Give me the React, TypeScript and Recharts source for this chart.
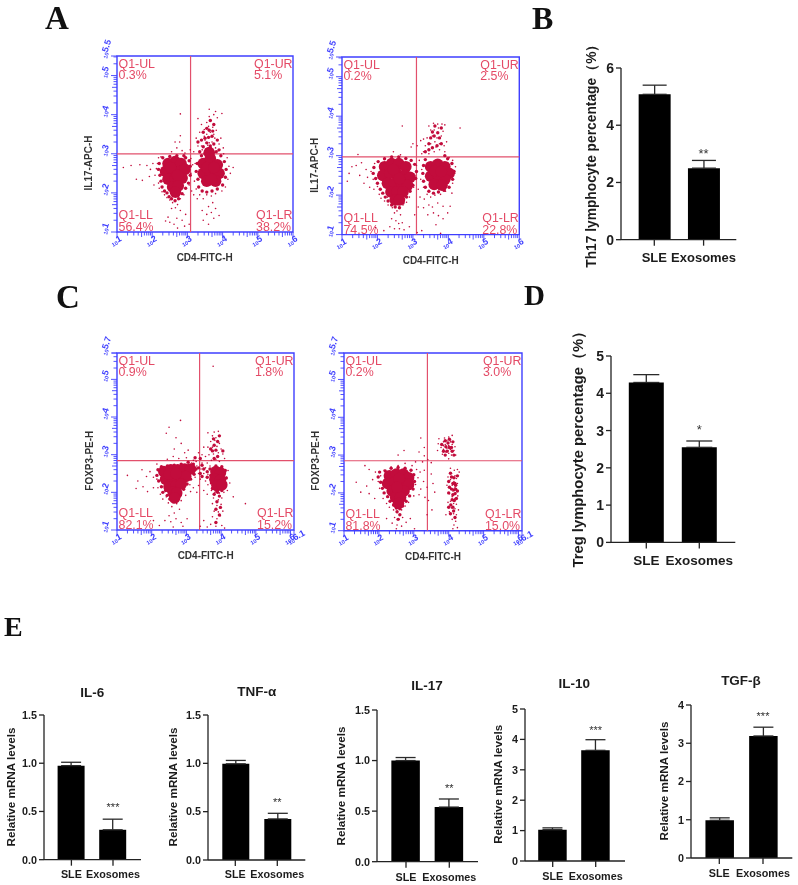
import React from 'react';
import { BarChart, Bar, XAxis, YAxis, ErrorBar, ReferenceDot, Label, ScatterChart, Scatter, ReferenceLine, ReferenceArea } from 'recharts';

const groups = ['SLE', 'Exosomes'];
const th17Values = [5.08, 2.5];
const th17Errors = [0.32, 0.27];
const tregValues = [4.29, 2.55];
const tregErrors = [0.21, 0.17];
const il6Values = [0.975, 0.31];
const il6Errors = [0.035, 0.11];
const tnfValues = [0.995, 0.425];
const tnfErrors = [0.035, 0.058];
const il17Values = [1.0, 0.54];
const il17Errors = [0.03, 0.08];
const il10Values = [1.03, 3.64];
const il10Errors = [0.06, 0.35];
const tgfValues = [0.985, 3.19];
const tgfErrors = [0.065, 0.23];

const a1Core = [[2.45,2.75],[2.65,2.8],[2.82,2.75],[2.38,2.55],[2.6,2.55],[2.8,2.55],[2.93,2.6],[2.45,2.35],[2.65,2.35],[2.85,2.38],[2.58,2.15],[2.74,2.18],[2.66,2.02],[2.52,2.65],[2.72,2.45],[3.45,2.75],[3.65,2.88],[3.85,2.72],[3.45,2.5],[3.65,2.5],[3.9,2.5],[3.55,2.3],[3.8,2.3],[3.62,3.03],[3.55,2.65],[3.75,2.65],[3.68,2.35]];
const a1Fringe = [[2.18,2.6],[2.2,2.75],[2.22,2.45],[2.25,2.3],[2.28,2.15],[2.35,2.05],[2.42,2.0],[2.48,1.9],[2.55,1.85],[2.65,1.8],[2.75,1.85],[2.85,1.98],[2.95,2.12],[3.03,2.25],[3.08,2.45],[3.08,2.68],[3.05,2.82],[2.95,2.9],[2.3,2.9],[2.5,2.93],[2.7,2.95],[2.9,2.95],[3.25,2.55],[3.28,2.75],[3.3,2.35],[3.32,2.15],[3.42,2.05],[3.55,2.02],[3.7,2.05],[3.85,2.1],[4.0,2.2],[4.08,2.4],[4.1,2.6],[4.05,2.8],[3.95,2.95],[3.82,3.05],[3.4,2.95],[3.35,3.05],[3.45,3.18],[3.55,3.28],[3.65,3.2],[3.75,3.25],[3.6,3.42],[3.7,3.45],[3.5,3.4],[3.62,3.6],[3.55,3.65],[3.72,3.58],[3.4,3.35],[3.45,3.55],[3.75,3.75],[3.85,3.35],[3.65,3.85],[3.5,3.0],[3.9,3.1],[3.3,3.3]];
const a1Halo = [[3.4,3.2],[3.5,3.35],[3.6,3.4],[3.7,3.3],[3.55,3.5],[3.65,3.55],[3.75,3.5],[3.48,3.62],[3.6,3.7],[3.72,3.68],[3.55,3.8],[3.68,3.85],[3.3,3.9],[3.4,3.75],[3.82,3.6],[3.95,3.4],[3.9,3.25],[3.62,3.95],[3.75,4],[3.85,3.92],[3.62,4.14],[3.8,4.08],[3.98,4.03],[3.25,3.4],[3.3,3.2],[3.42,3.1],[3.8,3.15],[4.02,3.15],[3.58,3.22],[3.68,3.15],[3.52,3.12],[3.48,3.45],[3.78,3.4],[3.62,3.28],[3.35,3.55],[3.88,3.08],[2.8,3.46],[2.65,3.3],[2.78,3.3],[2.7,3.15],[2.55,3.05],[2.85,3.08],[2.93,3.02],[3.08,3.1],[2.8,4.02],[3.18,3.05],[1.18,2.65],[1.4,2.7],[1.65,2.72],[1.55,2.35],[1.72,2.32],[1.85,2.7],[1.95,2.6],[2.02,2.75],[2.12,2.62],[2.08,2.45],[1.92,2.42],[2.05,2.2],[2.18,2.25],[2.18,2.9],[2.15,2.75],[2.25,2.92],[2.2,2.12],[2.28,2.03],[2.35,1.95],[2.42,1.88],[2.5,1.82],[2.58,1.75],[2.72,1.7],[2.8,1.85],[2.9,1.95],[2.66,1.62],[2.55,1.6],[2.8,1.55],[2.45,1.38],[2.5,1.25],[2.7,1.35],[2.62,1.2],[2.85,1.3],[2.92,1.15],[2.38,1.28],[3.05,1.2],[2.95,1.45],[2.72,1.1],[3.1,2.5],[3.15,2.72],[3.2,2.3],[3.05,2.2],[3.12,2.05],[3.22,2.75],[3.18,1.95],[3.1,2.88],[3.25,2.1],[3.28,1.85],[3.35,1.95],[3.45,1.85],[3.55,1.95],[3.68,1.92],[3.8,1.98],[3.98,2.05],[3.72,1.75],[3.6,1.65],[3.42,1.55],[3.55,1.45],[3.68,1.5],[3.8,1.6],[3.75,1.35],[3.45,1.3],[3.6,1.2],[3.9,1.42],[4.15,2.35],[4.18,2.68],[4.3,2.65],[4.08,2.15],[4.22,2.5],[4.13,2.9],[4.03,3.0]];
const a2Core = [[2.2,2.72],[2.4,2.8],[2.6,2.8],[2.8,2.72],[2.15,2.5],[2.35,2.55],[2.55,2.55],[2.78,2.5],[2.92,2.45],[2.28,2.3],[2.48,2.3],[2.68,2.3],[2.85,2.25],[2.38,2.08],[2.55,2.08],[2.72,2.08],[2.5,1.88],[2.62,1.88],[2.45,2.65],[2.62,2.42],[3.5,2.72],[3.7,2.78],[3.9,2.72],[4.02,2.55],[3.5,2.48],[3.7,2.5],[3.9,2.4],[3.6,2.27],[3.82,2.25],[3.62,2.62],[3.8,2.6]];
const a2Fringe = [[1.88,2.55],[1.9,2.7],[1.95,2.42],[2.0,2.3],[2.08,2.15],[2.15,2.05],[2.22,1.95],[2.3,1.85],[2.4,1.75],[2.5,1.7],[2.62,1.68],[2.72,1.8],[2.82,1.95],[2.92,2.1],[3.0,2.25],[3.08,2.42],[3.1,2.6],[3.05,2.78],[2.95,2.88],[2.02,2.85],[2.2,2.92],[2.4,2.97],[2.6,2.97],[2.8,2.93],[3.28,2.55],[3.3,2.75],[3.3,2.35],[3.35,2.2],[3.45,2.1],[3.58,2.05],[3.72,2.08],[3.88,2.12],[4.02,2.2],[4.12,2.4],[4.16,2.6],[4.1,2.8],[3.98,2.92],[3.35,2.9],[3.45,3.15],[3.55,3.2],[3.68,3.25],[3.6,3.5],[3.7,3.58],[3.62,3.75],[3.35,3.1],[3.5,3.45],[3.8,3.3],[3.75,3.45],[3.55,3.6],[3.8,3.7],[3.45,3.3],[3.9,3.0]];
const a2Halo = [[3.3,3.1],[3.45,3.05],[3.6,3.1],[3.75,3.15],[3.9,3.1],[3.35,3.25],[3.5,3.3],[3.62,3.35],[3.75,3.3],[3.88,3.25],[3.4,3.45],[3.55,3.5],[3.68,3.45],[3.8,3.5],[3.95,3.35],[3.5,3.65],[3.6,3.65],[3.72,3.7],[3.85,3.62],[3.58,3.82],[3.7,3.8],[3.82,3.8],[3.9,3.78],[3.45,3.75],[4.33,3.7],[3.22,3.38],[3.3,3.42],[3.12,3.25],[3.0,3.3],[2.95,3.22],[2.7,3.75],[2.65,3.02],[2.45,3.1],[1.45,3.03],[3.25,3.05],[3.65,3.22],[1.2,2.55],[1.28,2.72],[1.4,2.75],[1.15,2.35],[1.5,2.5],[1.55,2.82],[1.68,2.65],[1.72,2.45],[1.62,2.3],[1.78,2.2],[1.82,2.6],[1.88,2.4],[1.92,2.8],[1.9,2.15],[2.0,2.22],[2.05,2.02],[2.1,1.92],[2.2,1.85],[2.28,1.95],[2.3,1.75],[2.42,1.68],[2.48,1.55],[2.55,1.6],[2.62,1.7],[2.72,1.75],[2.82,1.82],[2.9,1.95],[2.65,1.5],[2.4,1.4],[2.52,1.35],[2.6,1.28],[2.7,1.3],[2.35,1.2],[2.48,1.15],[2.62,1.15],[2.75,1.12],[2.9,1.2],[2.18,1.1],[1.95,1.18],[3.05,1.5],[3.12,1.05],[3.25,1.1],[3.05,2.5],[3.1,2.75],[3.18,2.88],[3.22,2.4],[3.25,2.65],[3.02,2.2],[3.15,2.15],[3.3,2.2],[3.2,1.95],[3.32,1.9],[3.15,1.7],[3.3,1.68],[3.4,2.02],[3.5,1.95],[3.62,2.0],[3.78,2.02],[3.92,2.1],[4.1,2.05],[3.45,1.75],[3.55,1.7],[3.7,1.8],[3.85,1.72],[4.05,1.72],[3.42,1.5],[3.58,1.55],[3.72,1.48],[3.85,1.4],[3.65,1.25],[4.12,2.3],[4.18,2.55],[4.2,2.72],[4.12,2.88],[4.02,2.95],[3.98,1.55],[3.78,1.03]];
const c1Core = [[2.35,2.55],[2.55,2.6],[2.75,2.6],[2.95,2.62],[3.12,2.62],[2.4,2.35],[2.6,2.38],[2.8,2.4],[2.98,2.42],[2.5,2.15],[2.7,2.18],[2.85,2.22],[2.62,2.0],[2.72,1.98],[2.66,1.85],[2.5,2.48],[2.7,2.5],[3.85,2.55],[3.98,2.52],[3.82,2.35],[3.98,2.33],[3.88,2.18],[4.02,2.2]];
const c1Fringe = [[2.15,2.45],[2.18,2.6],[2.2,2.3],[2.28,2.15],[2.32,2.0],[2.4,2.05],[2.45,1.92],[2.52,1.82],[2.62,1.75],[2.72,1.78],[2.82,1.92],[2.92,2.08],[3.02,2.22],[3.12,2.35],[3.22,2.48],[3.28,2.62],[3.2,2.75],[3.05,2.8],[2.85,2.75],[2.65,2.72],[2.45,2.7],[2.28,2.68],[3.4,2.5],[3.5,2.62],[3.6,2.55],[3.35,2.65],[3.45,2.72],[3.6,2.4],[3.45,2.42],[3.68,2.62],[3.7,2.45],[3.72,2.25],[3.75,2.1],[3.88,2.02],[4.02,2.05],[4.12,2.2],[4.15,2.38],[4.12,2.58],[4.02,2.68],[3.85,2.7],[3.8,1.95],[3.95,1.9],[3.88,1.75],[3.98,1.6],[3.85,1.55],[3.75,3.1],[3.85,3.12],[3.9,3.35],[3.8,3.25],[3.9,2.95],[3.8,2.9],[4.05,3.1],[3.7,3.15],[3.95,3.5],[3.78,3.42],[3.95,1.4],[3.85,1.2],[3.9,2.0],[3.4,2.9],[3.25,2.92]];
const c1Halo = [[3.3,2.7],[3.42,2.62],[3.55,2.65],[3.35,2.5],[3.5,2.5],[3.62,2.48],[3.28,2.82],[3.45,2.78],[3.6,2.78],[3.2,2.85],[3.15,2.78],[3.68,2.7],[3.25,2.4],[3.4,2.35],[3.55,2.3],[3.62,2.2],[3.1,2.2],[3.2,2.12],[3.35,2.18],[3.5,2.05],[3.6,1.95],[3.3,2.0],[3.12,2.02],[3.72,2.85],[3.85,2.88],[3.95,2.82],[4.1,2.9],[3.65,3.0],[3.78,3.02],[3.92,3.05],[4.05,3.02],[3.62,3.2],[3.75,3.2],[3.88,3.22],[4.0,3.15],[3.7,3.35],[3.82,3.38],[3.95,3.3],[3.75,3.5],[3.85,3.45],[3.62,3.58],[3.8,3.6],[3.92,3.62],[3.35,3.05],[3.45,3.0],[3.5,3.2],[3.55,2.95],[4.15,2.4],[4.2,2.58],[4.25,2.25],[4.18,2.05],[4.35,1.88],[3.72,2.05],[3.82,2.0],[3.95,1.98],[4.08,2.0],[3.78,1.85],[3.92,1.8],[4.02,1.85],[3.75,1.7],[3.88,1.65],[4.0,1.68],[3.8,1.5],[3.92,1.48],[4.05,1.5],[3.75,1.35],[3.88,1.3],[3.98,1.38],[3.7,1.15],[3.85,1.1],[4.02,1.12],[4.1,1.05],[3.6,1.08],[3.4,1.1],[3.5,1.25],[4.7,1.7],[3.77,5.35],[2.83,3.91],[2.5,3.73],[2.42,3.57],[2.7,3.45],[2.85,3.3],[2.65,3.15],[2.95,3.05],[3.05,3.12],[2.62,2.95],[2.45,2.88],[2.78,2.9],[3.0,2.92],[2.15,2.75],[2.22,2.55],[2.15,2.35],[2.05,2.4],[1.95,2.55],[1.85,2.42],[1.72,2.6],[1.6,2.3],[1.55,2.1],[1.3,2.45],[1.75,2.15],[1.88,2.02],[2.05,2.12],[2.18,2.12],[2.25,1.95],[2.32,1.82],[2.42,1.88],[2.48,1.72],[2.58,1.62],[2.72,1.7],[2.85,1.78],[2.98,1.92],[2.8,1.55],[2.65,1.45],[2.5,1.38],[2.38,1.25],[2.55,1.22],[2.7,1.3],[2.85,1.2],[2.62,1.08],[2.9,1.1],[3.02,1.3],[2.22,1.12],[2.05,1.25]];
const c2Core = [[2.3,2.45],[2.5,2.5],[2.7,2.5],[2.85,2.4],[2.25,2.25],[2.45,2.28],[2.65,2.28],[2.85,2.22],[2.38,2.05],[2.55,2.05],[2.72,2.05],[2.48,1.88],[2.62,1.88],[2.56,1.72],[2.58,2.38],[2.52,2.15]];
const c2Fringe = [[1.98,2.42],[2.02,2.55],[2.05,2.28],[2.1,2.12],[2.15,2.0],[2.25,1.9],[2.32,1.78],[2.42,1.68],[2.5,1.6],[2.6,1.58],[2.68,1.65],[2.78,1.78],[2.88,1.92],[2.98,2.1],[3.02,2.3],[3.0,2.48],[2.92,2.6],[2.75,2.65],[2.55,2.67],[2.35,2.65],[2.18,2.58],[2.52,1.5],[2.6,1.42],[2.55,1.3],[4.08,2.42],[4.15,2.4],[4.12,2.25],[4.18,2.25],[4.08,2.1],[4.15,2.08],[4.2,2.1],[4.12,1.95],[4.18,1.98],[4.1,1.82],[4.16,1.8],[4.06,1.68],[4.12,1.62],[4.14,1.52],[3.95,3.1],[4.02,3.2],[3.92,3.22],[3.98,3.32],[4.08,3.2],[3.9,3.38],[4.02,3.42],[4.1,3.1],[4.0,2.3],[4.02,2.15],[4.25,2.05],[4.0,1.62],[4.22,1.85],[3.9,3.0],[3.8,3.28],[3.85,3.1],[4.12,3.35],[4.15,3.0],[4.2,2.2],[4.05,2.52],[4.25,2.45],[4.0,2.0],[4.05,1.45],[4.18,1.35]];
const c2Halo = [[4.08,2.52],[4.18,2.45],[4.05,2.35],[4.15,2.3],[4.22,2.38],[4.1,2.2],[4.18,2.15],[4.25,2.25],[4.05,2.12],[4.12,2.05],[4.2,2.0],[4.02,1.98],[4.1,1.9],[4.18,1.85],[4.26,1.92],[4.05,1.78],[4.14,1.72],[4.22,1.7],[4.08,1.6],[4.18,1.58],[4.02,1.5],[4.14,1.45],[4.22,1.42],[4.1,1.3],[4.2,1.25],[4.15,1.15],[4.25,1.08],[4.12,1.05],[4.28,1.55],[3.95,2.2],[3.98,2.42],[4.3,2.55],[4.25,2.62],[3.98,1.75],[3.92,1.42],[4.16,2.6],[4.05,2.65],[3.92,3.08],[4.0,3.05],[4.08,3.0],[3.85,3.15],[3.95,3.18],[4.05,3.15],[4.15,3.12],[3.78,3.2],[3.9,3.28],[4.0,3.25],[4.1,3.28],[3.7,3.3],[3.85,3.35],[3.95,3.38],[4.05,3.35],[3.88,3.45],[4.0,3.48],[4.1,3.52],[3.72,3.43],[4.18,3.22],[3.82,3.02],[4.2,3.0],[4.0,2.9],[3.68,3.12],[3.85,3.25],[3.98,3.12],[4.05,3.4],[3.2,3.45],[3.3,3.2],[3.15,3.08],[3.3,2.98],[3.4,2.88],[3.25,2.82],[3.5,2.8],[3.05,2.82],[2.95,2.72],[3.08,2.62],[3.18,2.55],[3.3,2.6],[3.12,2.4],[3.28,2.3],[3.05,2.22],[3.2,2.1],[3.38,2.15],[3.15,1.95],[3.0,1.92],[3.32,1.88],[3.5,2.5],[3.55,2.25],[3.6,2.02],[3.42,1.8],[3.52,1.55],[3.38,1.42],[2.72,3.12],[2.55,3.0],[2.75,2.78],[2.55,2.72],[2.35,2.68],[2.15,2.6],[2.05,2.45],[1.98,2.3],[2.02,2.12],[1.9,2.55],[1.82,2.35],[1.72,2.62],[1.6,2.72],[1.65,2.18],[1.48,2.02],[1.72,1.98],[1.35,2.28],[1.88,1.85],[2.12,1.85],[2.22,1.72],[2.3,1.62],[2.42,1.55],[2.52,1.48],[2.65,1.55],[2.75,1.65],[2.85,1.75],[2.45,1.35],[2.58,1.3],[2.68,1.35],[2.38,1.2],[2.52,1.15],[2.65,1.12],[2.78,1.22],[2.9,1.32],[2.22,1.32],[3.02,1.05],[2.5,1.05]];

const a1Text = ['0.3%', '5.1%', '56.4%', '38.2%'];
const a2Text = ['0.2%', '2.5%', '74.5%', '22.8%'];
const c1Text = ['0.9%', '1.8%', '82.1%', '15.2%'];
const c2Text = ['0.2%', '3.0%', '81.8%', '15.0%'];

const CRIMSON = '#c20c3c';
const QUAD = '#e2506c';
const BLUE = '#3f3fff';
const FF = '"Liberation Sans", Arial, sans-serif';
const minorLogs = [0.301, 0.477, 0.602, 0.699, 0.778, 0.845, 0.903, 0.954];

function logTicks(max: number) {
  const out: number[] = [];
  for (let d = 1; d <= Math.floor(max); d++) {
    out.push(d);
    minorLogs.forEach((m) => { if (d + m < max) out.push(d + m); });
  }
  if (!Number.isInteger(max)) out.push(max);
  return out;
}

function tickLen(v: number, max: number) {
  if (Number.isInteger(v) || v === max) return 6;
  const frac = v - Math.floor(v);
  return Math.abs(frac - 0.699) < 0.01 ? 5 : 3.5;
}

function FlowPanel({ box, xMax, yMax, quad, core, fringe, halo, texts, xTitle, yTitle, xT, yT }: any) {
  const { left, top, right, bottom } = box;
  const w = right - left, h = bottom - top;
  const cl = left - 40, ct = top - 12;
  const xTick = (p: any) => {
    const v = p.payload.value;
    const major = Number.isInteger(v) || v === xMax;
    return (
      <g>
        <line x1={p.x} x2={p.x} y1={p.y} y2={p.y + tickLen(v, xMax)} stroke={BLUE} strokeWidth={0.9} />
        {major && (
          <text transform={`translate(${p.x - 4},${p.y + 15}) rotate(-28)`} fill={BLUE} fontFamily={FF} fontWeight={700}>
            <tspan fontSize={5.5}>10</tspan><tspan fontSize={9} dy={-1.5}>{v}</tspan>
          </text>
        )}
      </g>
    );
  };
  const yTick = (p: any) => {
    const v = p.payload.value;
    const major = Number.isInteger(v) || v === yMax;
    return (
      <g>
        <line x1={p.x - tickLen(v, yMax)} x2={p.x} y1={p.y} y2={p.y} stroke={BLUE} strokeWidth={0.9} />
        {major && (
          <text transform={`translate(${p.x - 10},${p.y + 3}) rotate(-72)`} fill={BLUE} fontFamily={FF} fontWeight={700}>
            <tspan fontSize={5.5}>10</tspan><tspan fontSize={9} dy={-1.5}>{v}</tspan>
          </text>
        )}
      </g>
    );
  };
  const coreDot = (p: any) => <circle cx={p.cx} cy={p.cy} r={5.8} fill={CRIMSON} />;
  const fringeDot = (p: any) => <circle cx={p.cx} cy={p.cy} r={1.7} fill={CRIMSON} />;
  const haloDot = (p: any) => <circle cx={p.cx} cy={p.cy} r={0.8} fill={CRIMSON} />;
  const toXY = (a: number[][]) => a.map(([x, y]) => ({ x, y }));
  const quadText = (s: string, x: number, y: number) => (
    <text x={x} y={y} fontFamily={FF} fontSize={12.4} fill="#e44a66">{s}</text>
  );
  return (
    <div style={{ position: 'absolute', left: cl, top: ct }}>
      <ScatterChart width={w + 60} height={h + 52} margin={{ top: 12, right: 20, bottom: 0, left: 0 }}>
        <XAxis type="number" dataKey="x" domain={[1, xMax]} ticks={logTicks(xMax)} interval={0} axisLine={false} tickLine={false} tickSize={0} tickMargin={0} height={40} tick={xTick} allowDataOverflow>
          <Label value={xTitle} content={() => <text x={xT[0] - cl} y={xT[1] - ct} textAnchor="middle" fontFamily={FF} fontWeight={700} fontSize={10} fill="#333">{xTitle}</text>} />
        </XAxis>
        <YAxis type="number" dataKey="y" domain={[1, yMax]} ticks={logTicks(yMax)} interval={0} axisLine={false} tickLine={false} tickSize={0} tickMargin={0} width={40} tick={yTick} allowDataOverflow>
          <Label value={yTitle} content={() => <text transform={`translate(${yT[0] - cl},${yT[1] - ct}) rotate(-90)`} textAnchor="middle" fontFamily={FF} fontWeight={700} fontSize={10} fill="#333">{yTitle}</text>} />
        </YAxis>
        <Scatter data={toXY(halo)} shape={haloDot} isAnimationActive={false} />
        <Scatter data={toXY(fringe)} shape={fringeDot} isAnimationActive={false} />
        <Scatter data={toXY(core)} shape={coreDot} isAnimationActive={false} />
        <ReferenceLine x={quad[0]} stroke={QUAD} strokeWidth={1.2} />
        <ReferenceLine y={quad[1]} stroke={QUAD} strokeWidth={1.2} />
        <ReferenceArea x1={1} x2={xMax} y1={1} y2={yMax} fill="none" stroke={BLUE} strokeWidth={1.4} />
        <g>
          {quadText('Q1-UL', 41.5, 24)}
          {quadText(texts[0], 41.5, 35)}
          {quadText('Q1-UR', 40 + w - 39, 24)}
          {quadText(texts[1], 40 + w - 39, 35)}
          {quadText('Q1-LL', 41.5, 12 + h - 13)}
          {quadText(texts[2], 41.5, 12 + h - 1)}
          {quadText('Q1-LR', 40 + w - 37, 12 + h - 13)}
          {quadText(texts[3], 40 + w - 37, 12 + h - 1)}
        </g>
      </ScatterChart>
    </div>
  );
}

function BarPanel({ geo, values, errors, yTicks, sig, sigY, yTitle, titlePos, fs }: any) {
  const { axisX, end, topY, baseY, tick1, tick2, barW, labelY, capW } = geo;
  const data = groups.map((g, i) => ({ name: g, value: values[i], err: [0, errors[i]] }));
  const yMax = yTicks[yTicks.length - 1];
  const spacing = tick2 - tick1;
  const cl = axisX - 45, ct = topY - 12;
  const xTick = (p: any) => (
    <text x={p.x} y={labelY - ct} textAnchor="middle" fontFamily={FF} fontWeight={700} fontSize={fs.x} fill="#1c1c1c">{p.payload.value}</text>
  );
  return (
    <div style={{ position: 'absolute', left: cl, top: ct }}>
      <BarChart width={end - axisX + 50} height={baseY - topY + 12 + 28} data={data} margin={{ top: 12, right: 5, bottom: 0, left: 0 }}>
        <XAxis dataKey="name" type="category" padding={{ left: tick1 - axisX - spacing / 2, right: end - tick2 - spacing / 2 }} height={28} interval={0} tickSize={6} tickLine={{ stroke: '#222', strokeWidth: 1.3 }} axisLine={{ stroke: '#222', strokeWidth: 1.3 }} tick={xTick} />
        <YAxis type="number" domain={[0, yMax]} ticks={yTicks} interval={0} width={45} tickSize={5} tickMargin={2} tickFormatter={(v: number) => v.toFixed(fs.dec)} tickLine={{ stroke: '#222', strokeWidth: 1.3 }} axisLine={{ stroke: '#222', strokeWidth: 1.3 }} tick={{ fontFamily: FF, fontWeight: 700, fontSize: fs.y, fill: '#1c1c1c' }}>
          <Label value={yTitle} content={() => <text transform={`translate(${titlePos[0] - cl},${titlePos[1] - ct}) rotate(-90)`} textAnchor="middle" fontFamily={FF} fontWeight={fs.tw} fontSize={fs.t} fill="#1c1c1c">{yTitle}</text>} />
        </YAxis>
        <Bar dataKey="value" fill="#000" barSize={barW} isAnimationActive={false}>
          <ErrorBar dataKey="err" direction="y" width={capW} stroke="#2a2a2a" strokeWidth={1.3} isAnimationActive={false} />
        </Bar>
        <ReferenceDot x="Exosomes" y={sigY} r={0} fill="none" stroke="none" label={{ value: sig, position: 'center', fontFamily: FF, fontSize: fs.s, fill: '#333', dy: 1 }} />
      </BarChart>
    </div>
  );
}

const eFs = { x: 10.8, y: 10.8, t: 11.7, tw: 700, s: 11, dec: 0 };
const eFs1 = { ...eFs, dec: 1 };

export default function App() {
  return (
    <div style={{ position: 'absolute', left: 0, top: 0, width: 798, height: 885, background: '#fff', overflow: 'hidden', filter: 'blur(0.35px)' }}>
      <style>{'.recharts-surface{overflow:visible}'}</style>
      <FlowPanel box={{ left: 117.3, top: 56, right: 293.3, bottom: 232 }} xMax={6} yMax={5.5} quad={[3.09, 3.0]} core={a1Core} fringe={a1Fringe} halo={a1Halo} texts={a1Text} xTitle="CD4-FITC-H" yTitle="IL17-APC-H" xT={[205, 261]} yT={[92.5, 163]} />
      <FlowPanel box={{ left: 342, top: 56.7, right: 519.3, bottom: 234.3 }} xMax={6} yMax={5.5} quad={[3.1, 2.97]} core={a2Core} fringe={a2Fringe} halo={a2Halo} texts={a2Text} xTitle="CD4-FITC-H" yTitle="IL17-APC-H" xT={[430.7, 264]} yT={[317.5, 165]} />
      <FlowPanel box={{ left: 117.3, top: 353.3, right: 294.3, bottom: 530.3 }} xMax={6.1} yMax={5.7} quad={[3.38, 2.84]} core={c1Core} fringe={c1Fringe} halo={c1Halo} texts={c1Text} xTitle="CD4-FITC-H" yTitle="FOXP3-PE-H" xT={[206, 559.5]} yT={[93.5, 461]} />
      <FlowPanel box={{ left: 344, top: 353.3, right: 522, bottom: 531 }} xMax={6.1} yMax={5.7} quad={[3.39, 2.85]} core={c2Core} fringe={c2Fringe} halo={c2Halo} texts={c2Text} xTitle="CD4-FITC-H" yTitle="FOXP3-PE-H" xT={[433, 560]} yT={[318.5, 461]} />

      <BarPanel geo={{ axisX: 620.7, end: 736, topY: 68.3, baseY: 240, tick1: 654, tick2: 703.3, barW: 32, labelY: 262, capW: 12 }} values={th17Values} errors={th17Errors} yTicks={[0, 2, 4, 6]} sig="**" sigY={3.05} yTitle="Th17 lymphocyte percentage（%）" titlePos={[596, 153]} fs={{ x: 13, y: 14, t: 13.8, tw: 700, s: 13, dec: 0 }} />
      <BarPanel geo={{ axisX: 610.7, end: 735, topY: 356.3, baseY: 542.7, tick1: 646, tick2: 699, barW: 35, labelY: 565.5, capW: 13 }} values={tregValues} errors={tregErrors} yTicks={[0, 1, 2, 3, 4, 5]} sig="*" sigY={3.05} yTitle="Treg lymphocyte percentage（%）" titlePos={[583, 446]} fs={{ x: 13.5, y: 14, t: 14.8, tw: 700, s: 13, dec: 0 }} />

      <BarPanel geo={{ axisX: 44.3, end: 141.3, topY: 715, baseY: 859.7, tick1: 71.7, tick2: 113.3, barW: 27, labelY: 878, capW: 10 }} values={il6Values} errors={il6Errors} yTicks={[0, 0.5, 1, 1.5]} sig="***" sigY={0.56} yTitle="Relative mRNA levels" titlePos={[15, 787]} fs={eFs1} />
      <BarPanel geo={{ axisX: 207.7, end: 305, topY: 715, baseY: 860, tick1: 235, tick2: 277, barW: 27, labelY: 878, capW: 10 }} values={tnfValues} errors={tnfErrors} yTicks={[0, 0.5, 1, 1.5]} sig="**" sigY={0.61} yTitle="Relative mRNA levels" titlePos={[177, 787]} fs={eFs1} />
      <BarPanel geo={{ axisX: 376.7, end: 477.7, topY: 710, baseY: 861.7, tick1: 405.7, tick2: 449, barW: 28.5, labelY: 881, capW: 10 }} values={il17Values} errors={il17Errors} yTicks={[0, 0.5, 1, 1.5]} sig="**" sigY={0.74} yTitle="Relative mRNA levels" titlePos={[345, 786]} fs={eFs1} />
      <BarPanel geo={{ axisX: 525, end: 625, topY: 708.7, baseY: 860.7, tick1: 552.7, tick2: 595.7, barW: 28.5, labelY: 880, capW: 10 }} values={il10Values} errors={il10Errors} yTicks={[0, 1, 2, 3, 4, 5]} sig="***" sigY={4.33} yTitle="Relative mRNA levels" titlePos={[501.5, 784]} fs={eFs} />
      <BarPanel geo={{ axisX: 690.7, end: 792, topY: 705, baseY: 858, tick1: 719, tick2: 762.7, barW: 28.5, labelY: 877, capW: 10 }} values={tgfValues} errors={tgfErrors} yTicks={[0, 1, 2, 3, 4]} sig="***" sigY={3.74} yTitle="Relative mRNA levels" titlePos={[667.5, 781]} fs={eFs} />

      <svg width={798} height={885} style={{ position: 'absolute', left: 0, top: 0, pointerEvents: 'none' }}>
        <g fontFamily={'"Liberation Serif", serif'} fontWeight={700} fill="#111">
          <text x={45} y={29} fontSize={33}>A</text>
          <text x={532} y={29} fontSize={32}>B</text>
          <text x={56} y={308} fontSize={33}>C</text>
          <text x={524} y={305} fontSize={29}>D</text>
          <text x={4} y={636} fontSize={28}>E</text>
        </g>
        <g fontFamily={FF} fontWeight={700} fontSize={13.5} fill="#1c1c1c" textAnchor="middle">
          <text x={92.3} y={696.5}>IL-6</text>
          <text x={256.7} y={695.5}>TNF-α</text>
          <text x={427} y={689.5}>IL-17</text>
          <text x={574.3} y={688}>IL-10</text>
          <text x={741} y={685}>TGF-β</text>
        </g>
      </svg>
    </div>
  );
}
